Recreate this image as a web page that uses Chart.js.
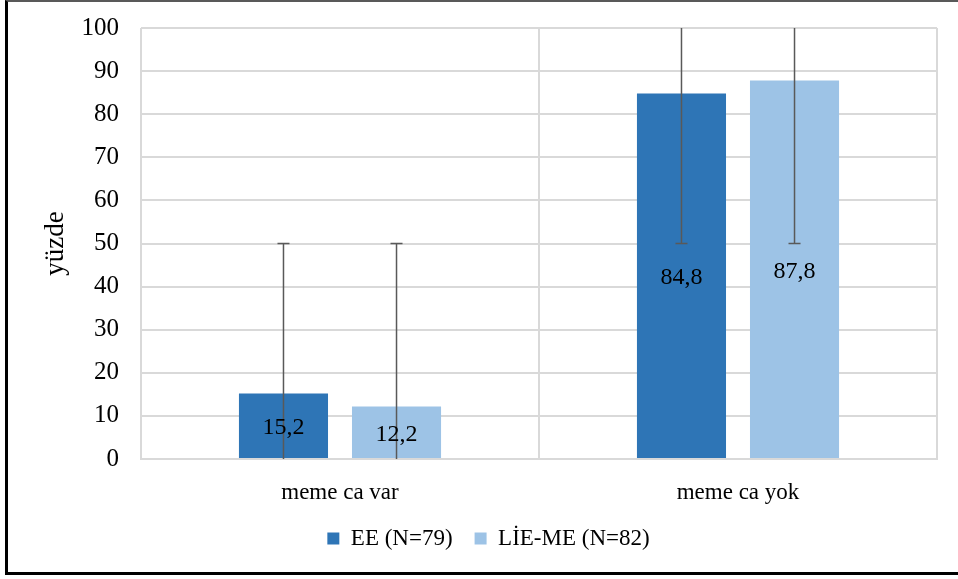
<!DOCTYPE html>
<html>
<head>
<meta charset="utf-8">
<script src="https://cdn.jsdelivr.net/npm/chart.js@4.4.1/dist/chart.umd.min.js"></script>
<style>
    body { margin: 0; background: #fff; }
    #wrap { position: relative; width: 958px; height: 579px; }
    #frame {
        position: absolute; left: 5px; top: 0; width: 960px; height: 575px;
        border-top: 2px solid #595959; border-left: 3px solid #000; border-bottom: 3px solid #000;
        box-sizing: border-box; pointer-events: none;
    }
    canvas { position: absolute; left: 0; top: 0; }
</style>
</head>
<body>
<div id="wrap">
    <canvas id="chart" width="958" height="579"></canvas>
    <div id="frame"></div>
</div>
<script>
// Data z grafu
const categories = ['meme ca var', 'meme ca yok'];
const seriesNames = ['EE (N=79)', 'LİE-ME (N=82)'];
const eeValues = [15.2, 84.8];
const lieValues = [12.2, 87.8];
// chybové úsečky: dolní a horní mez
const eeErrLow = [0, 50];
const eeErrHigh = [50, 100];
const lieErrLow = [0, 50];
const lieErrHigh = [50, 100];
const yTicks = [0, 10, 20, 30, 40, 50, 60, 70, 80, 90, 100];

const serif = "'Liberation Serif', 'Times New Roman', serif";
const gridColor = '#d9d9d9';

// Plugin pro chybové úsečky
const errorBars = {
    id: 'errorBars',
    afterDatasetsDraw(chart) {
        const ctx = chart.ctx;
        const y = chart.scales.y;
        chart.data.datasets.forEach((ds, di) => {
            const meta = chart.getDatasetMeta(di);
            meta.data.forEach((bar, i) => {
                const lo = ds.errLow[i], hi = ds.errHigh[i];
                const yLo = y.getPixelForValue(Math.max(lo, y.min));
                const yHi = y.getPixelForValue(Math.min(hi, y.max));
                ctx.save();
                ctx.strokeStyle = '#595959';
                ctx.lineWidth = 1.5;
                ctx.beginPath();
                ctx.moveTo(bar.x, yLo);
                ctx.lineTo(bar.x, yHi);
                if (lo > y.min) { ctx.moveTo(bar.x - 6, yLo); ctx.lineTo(bar.x + 6, yLo); }
                if (hi < y.max) { ctx.moveTo(bar.x - 6, yHi); ctx.lineTo(bar.x + 6, yHi); }
                ctx.stroke();
                ctx.restore();
            });
        });
    }
};

// Popisky hodnot uprostřed sloupců
const valueLabels = {
    id: 'valueLabels',
    afterDatasetsDraw(chart) {
        const ctx = chart.ctx;
        chart.data.datasets.forEach((ds, di) => {
            const meta = chart.getDatasetMeta(di);
            meta.data.forEach((bar, i) => {
                const c = bar.getCenterPoint();
                ctx.save();
                ctx.font = '24px ' + serif;
                ctx.fillStyle = '#000';
                ctx.textAlign = 'center';
                ctx.textBaseline = 'middle';
                ctx.fillText(ds.data[i].toFixed(1).replace('.', ','), c.x, c.y + 2);
                ctx.restore();
            });
        });
    }
};

new Chart(document.getElementById('chart').getContext('2d'), {
    type: 'bar',
    data: {
        labels: categories,
        datasets: [{
            label: seriesNames[0],
            data: eeValues,
            errLow: eeErrLow,
            errHigh: eeErrHigh,
            backgroundColor: '#2e75b6',
            categoryPercentage: 0.568,
            barPercentage: 0.788
        }, {
            label: seriesNames[1],
            data: lieValues,
            errLow: lieErrLow,
            errHigh: lieErrHigh,
            backgroundColor: '#9dc3e6',
            categoryPercentage: 0.568,
            barPercentage: 0.788
        }]
    },
    options: {
        responsive: false,
        animation: false,
        layout: { padding: { left: 40, right: 21, top: 28, bottom: 19 } },
        scales: {
            x: {
                grid: { color: gridColor, lineWidth: 2, offset: true, drawTicks: false },
                border: { color: gridColor, width: 2 },
                ticks: { color: '#000', font: { family: serif, size: 23 }, padding: 20 },
                afterFit(scale) { scale.height = 46; }
            },
            y: {
                min: 0,
                max: 100,
                afterBuildTicks(scale) { scale.ticks = yTicks.map(v => ({ value: v })); },
                grid: { color: gridColor, lineWidth: 2, drawTicks: false },
                border: { display: false },
                ticks: { color: '#000', font: { family: serif, size: 25 }, padding: 22 },
                title: { display: true, text: 'yüzde', color: '#000', font: { family: serif, size: 27 }, padding: 0 },
                afterFit(scale) {
                    scale.width = 101;
                    scale.paddingTop = 0;
                    scale.paddingBottom = 0;
                }
            }
        },
        plugins: {
            legend: {
                position: 'bottom',
                labels: { color: '#000', font: { family: serif, size: 23 }, boxWidth: 12, boxHeight: 12, padding: 22 }
            },
            tooltip: { enabled: false }
        }
    },
    plugins: [errorBars, valueLabels]
});
</script>
</body>
</html>
